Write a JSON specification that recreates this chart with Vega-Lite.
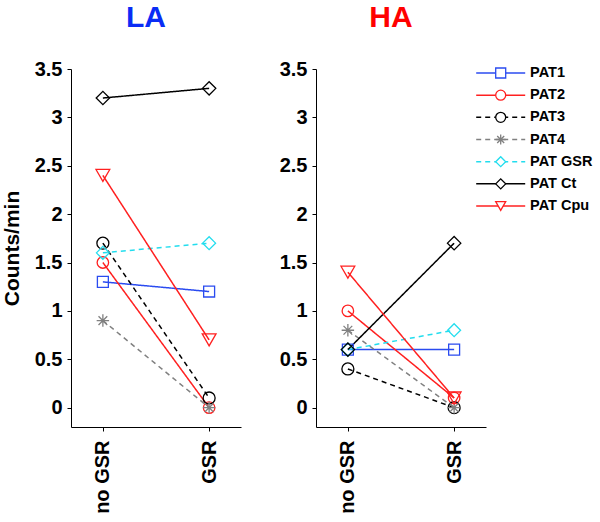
{
  "$schema": "https://vega.github.io/schema/vega-lite/v6.json",
  "padding": {"left": 0, "top": 2, "right": 0, "bottom": 0},
  "datasets": {
    "counts": [
      {"group": "LA", "patient": "PAT1", "cond": "no GSR", "value": 1.3},
      {"group": "LA", "patient": "PAT1", "cond": "GSR", "value": 1.2},
      {"group": "LA", "patient": "PAT2", "cond": "no GSR", "value": 1.5},
      {"group": "LA", "patient": "PAT2", "cond": "GSR", "value": 0.0},
      {"group": "LA", "patient": "PAT3", "cond": "no GSR", "value": 1.7},
      {"group": "LA", "patient": "PAT3", "cond": "GSR", "value": 0.1},
      {"group": "LA", "patient": "PAT4", "cond": "no GSR", "value": 0.9},
      {"group": "LA", "patient": "PAT4", "cond": "GSR", "value": 0.0},
      {"group": "LA", "patient": "PAT GSR", "cond": "no GSR", "value": 1.6},
      {"group": "LA", "patient": "PAT GSR", "cond": "GSR", "value": 1.7},
      {"group": "LA", "patient": "PAT Ct", "cond": "no GSR", "value": 3.2},
      {"group": "LA", "patient": "PAT Ct", "cond": "GSR", "value": 3.3},
      {"group": "LA", "patient": "PAT Cpu", "cond": "no GSR", "value": 2.4},
      {"group": "LA", "patient": "PAT Cpu", "cond": "GSR", "value": 0.7},
      {"group": "HA", "patient": "PAT1", "cond": "no GSR", "value": 0.6},
      {"group": "HA", "patient": "PAT1", "cond": "GSR", "value": 0.6},
      {"group": "HA", "patient": "PAT2", "cond": "no GSR", "value": 1.0},
      {"group": "HA", "patient": "PAT2", "cond": "GSR", "value": 0.1},
      {"group": "HA", "patient": "PAT3", "cond": "no GSR", "value": 0.4},
      {"group": "HA", "patient": "PAT3", "cond": "GSR", "value": 0.0},
      {"group": "HA", "patient": "PAT4", "cond": "no GSR", "value": 0.8},
      {"group": "HA", "patient": "PAT4", "cond": "GSR", "value": 0.0},
      {"group": "HA", "patient": "PAT GSR", "cond": "no GSR", "value": 0.6},
      {"group": "HA", "patient": "PAT GSR", "cond": "GSR", "value": 0.8},
      {"group": "HA", "patient": "PAT Ct", "cond": "no GSR", "value": 0.6},
      {"group": "HA", "patient": "PAT Ct", "cond": "GSR", "value": 1.7},
      {"group": "HA", "patient": "PAT Cpu", "cond": "no GSR", "value": 1.4},
      {"group": "HA", "patient": "PAT Cpu", "cond": "GSR", "value": 0.1}
    ]
  },
  "data": {"name": "counts"},
  "hconcat": [
    {
      "width": 170,
      "height": 358,
      "title": {"text": "LA", "color": "#0a2cf5", "dx": -10},
      "transform": [{"filter": "datum.group === 'LA'"}],
      "encoding": {
        "x": {
          "field": "cond", "type": "nominal", "sort": ["no GSR", "GSR"],
          "scale": {"type": "point", "padding": 0.3},
          "axis": {"title": null, "labelAngle": 270, "labelAlign": "right", "labelBaseline": "middle", "labelPadding": 9, "tickSize": 4}
        },
        "y": {
          "field": "value", "type": "quantitative",
          "scale": {"domain": [-0.2, 3.5], "nice": false, "zero": false},
          "axis": {"values": [0, 0.5, 1, 1.5, 2, 2.5, 3, 3.5], "format": "~g", "title": "Counts/min", "titlePadding": 12, "tickSize": 4, "labelPadding": 5}
        },
        "color": {
          "field": "patient", "type": "nominal", "legend": null,
          "scale": {
            "domain": ["PAT1", "PAT2", "PAT3", "PAT4", "PAT GSR", "PAT Ct", "PAT Cpu"],
            "range": ["#2a4bf0", "#ff2020", "#000000", "#808080", "#22ddee", "#000000", "#ff2020"]
          }
        }
      },
      "layer": [
        {
          "mark": {"type": "line", "strokeWidth": 1.5},
          "encoding": {
            "strokeDash": {
              "field": "patient", "type": "nominal", "legend": null,
              "scale": {
                "domain": ["PAT1", "PAT2", "PAT3", "PAT4", "PAT GSR", "PAT Ct", "PAT Cpu"],
                "range": [[1, 0], [1, 0], [5, 4], [5, 4], [5, 4], [1, 0], [1, 0]]
              }
            }
          }
        },
        {
          "mark": {"type": "point", "filled": false, "strokeWidth": 1.3, "opacity": 1},
          "encoding": {
            "shape": {
              "field": "patient", "type": "nominal", "legend": null,
              "scale": {
                "domain": ["PAT1", "PAT2", "PAT3", "PAT4", "PAT GSR", "PAT Ct", "PAT Cpu"],
                "range": ["square", "circle", "circle", "M-1,0L1,0M0,-1L0,1M-0.7,-0.7L0.7,0.7M-0.7,0.7L0.7,-0.7", "diamond", "diamond", "triangle-down"]
              }
            },
            "size": {
              "field": "patient", "type": "nominal", "legend": null,
              "scale": {
                "domain": ["PAT1", "PAT2", "PAT3", "PAT4", "PAT GSR", "PAT Ct", "PAT Cpu"],
                "range": [120, 190, 190, 150, 180, 180, 190]
              }
            }
          }
        }
      ]
    },
    {
      "spacing": 0,
      "bounds": "flush",
      "hconcat": [
        {
          "width": 170,
          "height": 358,
          "title": {"text": "HA", "color": "#ff0000", "dx": -10},
          "transform": [{"filter": "datum.group === 'HA'"}],
          "encoding": {
            "x": {
              "field": "cond", "type": "nominal", "sort": ["no GSR", "GSR"],
              "scale": {"type": "point", "padding": 0.3},
              "axis": {"title": null, "labelAngle": 270, "labelAlign": "right", "labelBaseline": "middle", "labelPadding": 9, "tickSize": 4}
            },
            "y": {
              "field": "value", "type": "quantitative",
              "scale": {"domain": [-0.2, 3.5], "nice": false, "zero": false},
              "axis": {"values": [0, 0.5, 1, 1.5, 2, 2.5, 3, 3.5], "format": "~g", "title": null, "tickSize": 4, "labelPadding": 5}
            },
            "color": {
              "field": "patient", "type": "nominal", "legend": null,
              "scale": {
                "domain": ["PAT1", "PAT2", "PAT3", "PAT4", "PAT GSR", "PAT Ct", "PAT Cpu"],
                "range": ["#2a4bf0", "#ff2020", "#000000", "#808080", "#22ddee", "#000000", "#ff2020"]
              }
            }
          },
          "layer": [
            {
              "mark": {"type": "line", "strokeWidth": 1.5},
              "encoding": {
                "strokeDash": {
                  "field": "patient", "type": "nominal", "legend": null,
                  "scale": {
                    "domain": ["PAT1", "PAT2", "PAT3", "PAT4", "PAT GSR", "PAT Ct", "PAT Cpu"],
                    "range": [[1, 0], [1, 0], [5, 4], [5, 4], [5, 4], [1, 0], [1, 0]]
                  }
                }
              }
            },
            {
              "mark": {"type": "point", "filled": false, "strokeWidth": 1.3, "opacity": 1},
              "encoding": {
                "shape": {
                  "field": "patient", "type": "nominal", "legend": null,
                  "scale": {
                    "domain": ["PAT1", "PAT2", "PAT3", "PAT4", "PAT GSR", "PAT Ct", "PAT Cpu"],
                    "range": ["square", "circle", "circle", "M-1,0L1,0M0,-1L0,1M-0.7,-0.7L0.7,0.7M-0.7,0.7L0.7,-0.7", "diamond", "diamond", "triangle-down"]
                  }
                },
                "size": {
                  "field": "patient", "type": "nominal", "legend": null,
                  "scale": {
                    "domain": ["PAT1", "PAT2", "PAT3", "PAT4", "PAT GSR", "PAT Ct", "PAT Cpu"],
                    "range": [120, 190, 190, 150, 180, 180, 190]
                  }
                }
              }
            }
          ]
        },
        {
          "width": 110,
          "height": 141,
          "transform": [{"filter": "datum.group === 'LA' && datum.cond === 'no GSR'"}],
          "encoding": {
            "y": {
              "field": "patient", "type": "nominal",
              "sort": ["PAT1", "PAT2", "PAT3", "PAT4", "PAT GSR", "PAT Ct", "PAT Cpu"],
              "scale": {"type": "point", "padding": 0.18},
              "axis": null
            },
            "color": {
              "field": "patient", "type": "nominal", "legend": null,
              "scale": {
                "domain": ["PAT1", "PAT2", "PAT3", "PAT4", "PAT GSR", "PAT Ct", "PAT Cpu"],
                "range": ["#2a4bf0", "#ff2020", "#000000", "#808080", "#22ddee", "#000000", "#ff2020"]
              }
            }
          },
          "layer": [
            {
              "mark": {"type": "rule", "strokeWidth": 1.5},
              "encoding": {
                "x": {"datum": 0, "type": "quantitative", "scale": {"domain": [0.2, 2.445], "nice": false, "zero": false}, "axis": null},
                "x2": {"datum": 1},
                "strokeDash": {
                  "field": "patient", "type": "nominal", "legend": null,
                  "scale": {
                    "domain": ["PAT1", "PAT2", "PAT3", "PAT4", "PAT GSR", "PAT Ct", "PAT Cpu"],
                    "range": [[1, 0], [1, 0], [5, 4], [5, 4], [5, 4], [1, 0], [1, 0]]
                  }
                }
              }
            },
            {
              "mark": {"type": "point", "filled": false, "strokeWidth": 1.3, "opacity": 1, "fill": "white", "fillOpacity": 1},
              "encoding": {
                "x": {"datum": 0.5, "type": "quantitative"},
                "shape": {
                  "field": "patient", "type": "nominal", "legend": null,
                  "scale": {
                    "domain": ["PAT1", "PAT2", "PAT3", "PAT4", "PAT GSR", "PAT Ct", "PAT Cpu"],
                    "range": ["square", "circle", "circle", "M-1,0L1,0M0,-1L0,1M-0.7,-0.7L0.7,0.7M-0.7,0.7L0.7,-0.7", "diamond", "diamond", "triangle-down"]
                  }
                },
                "size": {"value": 100}
              }
            },
            {
              "mark": {"type": "text", "align": "left", "baseline": "middle", "fontSize": 14.5, "fontWeight": "bold"},
              "encoding": {
                "x": {"datum": 1.1, "type": "quantitative"},
                "text": {"field": "patient"},
                "color": {"value": "black"}
              }
            }
          ]
        }
      ]
    }
  ],
  "spacing": 36,
  "config": {
    "font": "Liberation Sans",
    "view": {"stroke": "transparent"},
    "axis": {
      "grid": false,
      "domainColor": "black",
      "tickColor": "black",
      "labelColor": "black",
      "labelFontSize": 20,
      "labelFontWeight": "bold",
      "titleColor": "black",
      "titleFontSize": 21,
      "titleFontWeight": "bold"
    },
    "title": {"fontSize": 30, "fontWeight": "bold", "baseline": "alphabetic", "offset": 26}
  }
}
